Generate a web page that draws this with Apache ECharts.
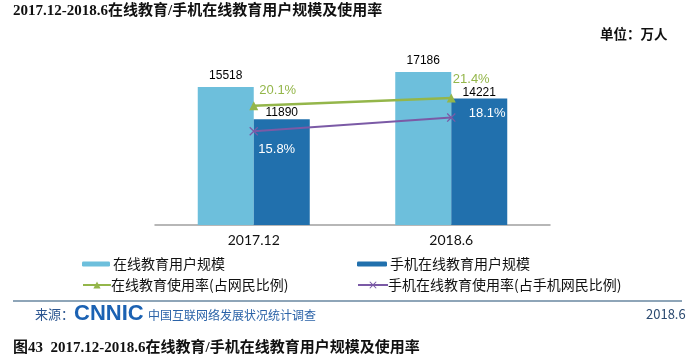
<!DOCTYPE html>
<html><head><meta charset="utf-8">
<script src="https://cdn.jsdelivr.net/npm/echarts@6/dist/echarts.min.js"></script>
<style>html,body{margin:0;padding:0;background:#fff}#c{width:700px;height:363px}</style>
</head><body><div id="c"></div>
<script>
const categories = ['2017.12', '2018.6'];
const onlineUsers = [15518, 17186];
const mobileUsers = [11890, 14221];
const onlineRate = [20.1, 21.4];
const mobileRate = [15.8, 18.1];
const seriesNames = ['在线教育用户规模', '手机在线教育用户规模', '在线教育使用率(占网民比例)', '手机在线教育使用率(占手机网民比例)'];

const C1 = '#6dbfdc', C2 = '#2170ad', CG = '#94b64a', CP = '#7b5aa6';
const cjk = "'Noto Sans CJK SC', 'Liberation Sans', sans-serif";
const serif = "'Liberation Serif', 'Noto Sans CJK SC', serif";
const xPath = 'path://M1,0L5,4L9,0L10,1L6,5L10,9L9,10L5,6L1,10L0,9L4,5L0,1Z';

const chart = echarts.init(document.getElementById('c'));
function legendAt(name, left, top, w, h, pad) {
  return { data: [name], left: left, top: top, itemWidth: w, itemHeight: h, itemGap: 0,
    padding: 0, selectedMode: false, textStyle: { fontSize: 14, color: '#111', fontFamily: cjk, padding: [0,0,0,pad] } };
}
chart.setOption({
  animation: false,
  backgroundColor: '#fff',
  grid: { left: 155, right: 150, top: 47, bottom: 138 },
  legend: [
    legendAt(seriesNames[0], 82, 257, 28, 5, -2),
    legendAt(seriesNames[1], 357, 257, 30, 5, -2),
    legendAt(seriesNames[2], 82, 278, 28, 9, -5),
    legendAt(seriesNames[3], 357, 278, 30, 9, -5)
  ],
  xAxis: {
    type: 'category', data: categories,
    axisLine: { lineStyle: { color: '#a0a0a0', width: 1.5 } },
    axisTick: { show: false },
    axisLabel: { fontSize: 14, color: '#111', margin: 8, fontFamily: "'Lato', 'Liberation Sans', sans-serif" }
  },
  yAxis: [
    { type: 'value', min: 0, max: 20000, show: false },
    { type: 'value', min: 0, max: 30, show: false }
  ],
  series: [
    { name: seriesNames[0], type: 'bar', data: onlineUsers, barWidth: 56, barGap: '0%',
      itemStyle: { color: C1 },
      label: { show: true, position: 'top', distance: 5, fontSize: 12, color: '#000', fontFamily: "'Liberation Sans', Arial" } },
    { name: seriesNames[1], type: 'bar', data: mobileUsers, barWidth: 56, barGap: '0%',
      itemStyle: { color: C2 },
      label: { show: true, position: 'top', distance: 0, fontSize: 12, color: '#000', fontFamily: "'Liberation Sans', Arial" } },
    { name: seriesNames[2], type: 'line', yAxisIndex: 1, z: 5,
      data: onlineRate.map((v, i) => ({ value: v, label: { offset: i === 0 ? [24, 0] : [20, -4] } })),
      symbol: 'triangle', symbolSize: 9, showSymbol: true,
      lineStyle: { color: CG, width: 2.5 }, itemStyle: { color: CG },
      label: { show: true, position: 'top', distance: 4, fontSize: 13, color: CG,
        fontFamily: "'Liberation Sans', Arial", formatter: p => p.value + '%' } },
    { name: seriesNames[3], type: 'line', yAxisIndex: 1, z: 5,
      data: mobileRate.map((v, i) => ({ value: v, label: i === 0 ? { position: 'bottom', offset: [23, 2] } : { position: 'right', offset: [8, -4] } })),
      symbol: xPath, symbolSize: 9,
      lineStyle: { color: CP, width: 2 }, itemStyle: { color: CP },
      label: { show: true, fontSize: 13, color: '#fff',
        fontFamily: "'Liberation Sans', Arial", formatter: p => p.value + '%' } }
  ],
  graphic: [
    { type: 'text', left: 13, top: 4, style: { text: '2017.12-2018.6在线教育/手机在线教育用户规模及使用率', font: 'bold 15px ' + serif, fill: '#111' } },
    { type: 'text', left: 600, top: 27, style: { text: '单位：万人', font: 'bold 13.5px ' + cjk, fill: '#111' } },
    { type: 'line', shape: { x1: 13, y1: 301, x2: 682, y2: 301 }, style: { stroke: '#8ea5b8', lineWidth: 2 } },
    { type: 'text', left: 35, top: 308, style: { text: '来源：', font: '13px ' + cjk, fill: '#2b5590' } },
    { type: 'text', left: 74, top: 303, style: { text: 'CNNIC', font: '900 22px ' + "'Liberation Sans', Arial", fill: '#1b62b3' } },
    { type: 'text', left: 148, top: 309, style: { text: '中国互联网络发展状况统计调查', font: '12px ' + cjk, fill: '#2b63a8' } },
    { type: 'text', left: 646, top: 308, style: { text: '2018.6', font: '13px ' + cjk, fill: '#2b4a70' } },
    { type: 'text', left: 13, top: 341, style: { text: '图43  2017.12-2018.6在线教育/手机在线教育用户规模及使用率', font: 'bold 15px ' + serif, fill: '#111' } }
  ]
});
</script></body></html>
